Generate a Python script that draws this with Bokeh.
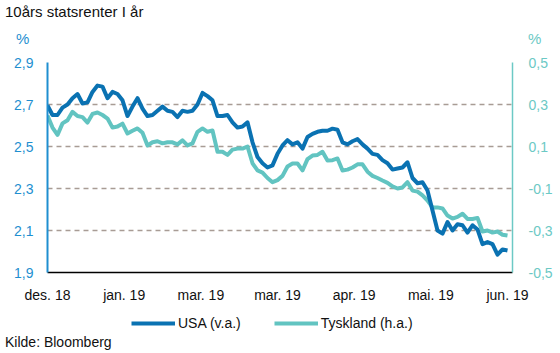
from bokeh.plotting import figure
from bokeh.layouts import column
from bokeh.models import (Range1d, LinearAxis, FixedTicker, CustomJSTickFormatter,
                          Legend, LegendItem, Div)
from bokeh.embed import file_html
from bokeh.resources import INLINE

# ---- data ----
usa = [2.695, 2.65, 2.65, 2.685, 2.70, 2.73, 2.75, 2.705, 2.71, 2.76,
       2.79, 2.785, 2.73, 2.76, 2.75, 2.72, 2.645, 2.69, 2.73, 2.68,
       2.645, 2.65, 2.67, 2.69, 2.67, 2.665, 2.64, 2.67, 2.665, 2.67,
       2.70, 2.755, 2.74, 2.72, 2.645, 2.645, 2.65, 2.615, 2.59, 2.595,
       2.615, 2.52, 2.45, 2.42, 2.40, 2.41, 2.465, 2.505, 2.53, 2.51,
       2.52, 2.49, 2.545, 2.56, 2.57, 2.575, 2.575, 2.585, 2.58, 2.52,
       2.51, 2.525, 2.535, 2.51, 2.49, 2.465, 2.46, 2.435, 2.42, 2.39,
       2.395, 2.40, 2.425, 2.35, 2.325, 2.33, 2.29, 2.195, 2.10, 2.085,
       2.14, 2.10, 2.13, 2.125, 2.09, 2.125, 2.105, 2.035, 2.045, 2.035,
       1.985, 2.01, 2.005]
tyskland = [0.248, 0.19, 0.155, 0.21, 0.225, 0.265, 0.245, 0.24, 0.214, 0.255,
            0.262, 0.25, 0.233, 0.19, 0.195, 0.209, 0.162, 0.175, 0.186, 0.165,
            0.105, 0.12, 0.125, 0.115, 0.12, 0.12, 0.11, 0.129, 0.105, 0.115,
            0.17, 0.186, 0.17, 0.176, 0.075, 0.075, 0.06, 0.085, 0.09, 0.09,
            0.10, 0.02, -0.014, -0.024, -0.05, -0.07, -0.06, -0.04, 0.005, 0.019,
            0.019, -0.014, 0.04, 0.057, 0.06, 0.075, 0.033, 0.035, 0.043, -0.014,
            -0.01, 0.0, 0.015, 0.015, -0.02, -0.04, -0.05, -0.062, -0.073, -0.09,
            -0.10, -0.095, -0.07, -0.11, -0.115, -0.133, -0.157, -0.19, -0.19, -0.195,
            -0.229, -0.243, -0.235, -0.22, -0.245, -0.245, -0.24, -0.305, -0.30, -0.31,
            -0.305, -0.32, -0.324]
x_idx = list(range(len(usa)))
x_labels = ["des. 18", "jan. 19", "mar. 19", "mar. 19", "apr. 19", "mai. 19", "jun. 19"]
left_ticks = [1.9, 2.1, 2.3, 2.5, 2.7, 2.9]
right_ticks = [-0.5, -0.3, -0.1, 0.1, 0.3, 0.5]
title_text = "10års statsrenter I år"
source_text = "Kilde: Bloomberg"

BLUE = "#0a72b2"
TEAL = "#62c4c1"
LBLUE = "#1f8fd0"
LTEAL = "#6cc9c5"
DARK = "#111111"
FONT = "Liberation Sans"
W = 560

# ---- header (title and unit labels) ----
top = Div(width=W, height=50, margin=0, text=(
    f'<div style="position:relative;width:{W}px;height:50px;font-family:\'{FONT}\';line-height:1;">'
    f'<span style="position:absolute;left:5px;top:4px;font-size:15px;color:{DARK};white-space:nowrap;">{title_text}</span>'
    f'<span style="position:absolute;left:16px;top:31px;font-size:15px;color:{LBLUE};">%</span>'
    f'<span style="position:absolute;left:528px;top:31px;font-size:15px;color:{LTEAL};">%</span>'
    '</div>'))

# ---- main chart ----
n = len(usa)
x_ticks = [(n - 1) * k / (len(x_labels) - 1) for k in range(len(x_labels))]

p = figure(width=W, height=255, output_backend="svg", toolbar_location=None,
           x_range=Range1d(0, n), y_range=Range1d(1.9, 2.9),
           min_border_left=47, min_border_right=48, min_border_top=12,
           min_border_bottom=33, y_axis_location=None)
p.outline_line_color = None
p.background_fill_color = "white"
p.border_fill_color = "white"
p.extra_y_ranges = {"right": Range1d(-0.5, 0.5)}

fmt_code = "return tick.toFixed(1).replace('.', ',');"

lax = LinearAxis(ticker=FixedTicker(ticks=left_ticks),
                 formatter=CustomJSTickFormatter(code=fmt_code))
lax.axis_line_color = LBLUE
lax.axis_line_width = 2
lax.major_tick_line_color = None
lax.minor_tick_line_color = None
lax.major_tick_out = 0
lax.minor_tick_out = 0
lax.major_label_text_color = LBLUE
lax.major_label_text_font = FONT
lax.major_label_text_font_size = "14px"
lax.major_label_standoff = 14
p.add_layout(lax, "left")

rax = LinearAxis(y_range_name="right", ticker=FixedTicker(ticks=right_ticks),
                 formatter=CustomJSTickFormatter(code=fmt_code))
rax.axis_line_color = LTEAL
rax.axis_line_width = 1.5
rax.major_tick_line_color = None
rax.minor_tick_line_color = None
rax.major_tick_out = 0
rax.minor_tick_out = 0
rax.major_label_text_color = LTEAL
rax.major_label_text_font = FONT
rax.major_label_text_font_size = "14px"
rax.major_label_standoff = 16
p.add_layout(rax, "right")

xa = p.xaxis[0]
xa.ticker = FixedTicker(ticks=x_ticks)
xa.formatter = CustomJSTickFormatter(args=dict(labs=x_labels, tpos=x_ticks), code="""
    let best = 0, d = 1e9;
    for (let i = 0; i < tpos.length; i++) { const dd = Math.abs(tpos[i] - tick); if (dd < d) { d = dd; best = i; } }
    return labs[best];
""")
xa.axis_line_color = "black"
xa.axis_line_width = 1.5
xa.major_tick_line_color = None
xa.minor_tick_line_color = None
xa.major_tick_out = 0
xa.minor_tick_out = 0
xa.major_label_text_color = DARK
xa.major_label_text_font = FONT
xa.major_label_text_font_size = "14px"
xa.major_label_standoff = 14

p.xgrid.visible = False
p.ygrid.ticker = FixedTicker(ticks=[2.1, 2.3, 2.5, 2.7, 2.9])
p.ygrid.grid_line_color = "#a89c95"
p.ygrid.grid_line_dash = "5 4"
p.ygrid.grid_line_width = 1.3

p.line(x_idx, tyskland, y_range_name="right", line_color=TEAL, line_width=4,
       line_join="round")
p.line(x_idx, usa, line_color=BLUE, line_width=4, line_join="round")

# ---- legend strip (same frame width as the chart) ----
# The strip's ranges keep the series out of view; they only feed the legend swatches.
leg = figure(width=W, height=30, output_backend="svg", toolbar_location=None,
             x_range=Range1d(0, n), y_range=Range1d(10, 11),
             x_axis_location=None, y_axis_location=None,
             min_border_left=47, min_border_right=48, min_border_top=0,
             min_border_bottom=0)
leg.outline_line_color = None
leg.xgrid.visible = False
leg.ygrid.visible = False
leg.background_fill_color = "white"
leg.border_fill_color = "white"
sw_us = leg.line(x_idx, usa, line_color=BLUE, line_width=4)
sw_ty = leg.line(x_idx, tyskland, line_color=TEAL, line_width=4)
legend = Legend(items=[LegendItem(label="USA (v.a.)", renderers=[sw_us]),
                       LegendItem(label="Tyskland (h.a.)", renderers=[sw_ty])],
                orientation="horizontal", location=(84, 2),
                border_line_color=None, background_fill_alpha=0,
                padding=0, margin=0, spacing=33, glyph_width=44, glyph_height=20,
                label_standoff=3, label_text_font=FONT, label_text_font_size="14px",
                label_text_color=DARK)
leg.add_layout(legend, "center")

# ---- footer (source) ----
bot = Div(width=W, height=18, margin=0, text=(
    f'<div style="position:relative;width:{W}px;height:18px;font-family:\'{FONT}\';line-height:1;">'
    f'<span style="position:absolute;left:5px;top:0px;font-size:14px;color:{DARK};white-space:nowrap;">{source_text}</span>'
    '</div>'))

layout = column(top, p, leg, bot, spacing=0)
open("out.html", "w").write(file_html(layout, INLINE))
